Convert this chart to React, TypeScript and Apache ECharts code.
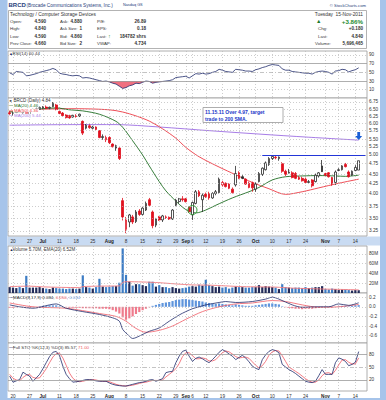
import React, { useEffect, useRef } from "react";
import * as echarts from "echarts";

// ---------- DATA ----------
const days = [
  "06-17","06-20","06-21","06-22","06-23","06-24","06-27","06-28","06-29","06-30",
  "07-01","07-05","07-06","07-07","07-08","07-11","07-12","07-13","07-14","07-15",
  "07-18","07-19","07-20","07-21","07-22","07-25","07-26","07-27","07-28","07-29",
  "08-01","08-02","08-03","08-04","08-05","08-08","08-09","08-10","08-11","08-12",
  "08-15","08-16","08-17","08-18","08-19","08-22","08-23","08-24","08-25","08-26",
  "08-29","08-30","08-31","09-01","09-02","09-06","09-07","09-08","09-09","09-12",
  "09-13","09-14","09-15","09-16","09-19","09-20","09-21","09-22","09-23","09-26",
  "09-27","09-28","09-29","09-30","10-03","10-04","10-05","10-06","10-07","10-10",
  "10-11","10-12","10-13","10-14","10-17","10-18","10-19","10-20","10-21","10-24",
  "10-25","10-26","10-27","10-28","10-31","11-01","11-02","11-03","11-04","11-07",
  "11-08","11-09","11-10","11-11","11-14","11-15","11-16","11-17"
];
const tickDays = ["06-20","06-27","07-01","07-11","07-18","07-25","08-01","08-08","08-15","08-22","08-29","09-01","09-06","09-12","09-19","09-26","10-03","10-10","10-17","10-24","11-01","11-07","11-14"];
const tickTexts = ["20","27","Jul","11","18","25","Aug","8","15","22","29","Sep","6","12","19","26","Oct","10","17","24","Nov","7","14"];

const open = [6.35,6.30,6.36,6.45,6.35,6.42,6.28,6.40,6.48,6.50,6.53,6.56,6.52,6.58,6.64,6.40,6.34,6.27,6.25,6.20,6.24,6.24,6.05,5.82,5.90,5.82,5.86,5.74,5.52,5.45,5.52,5.32,5.20,5.20,3.86,3.28,3.42,3.52,3.43,3.64,3.57,3.66,3.88,3.62,3.36,3.52,3.46,3.52,3.51,3.48,3.76,3.84,3.90,3.90,3.72,3.56,3.80,4.06,3.88,4.00,4.02,3.92,4.02,4.04,4.22,4.26,4.24,4.12,4.22,4.52,4.42,4.36,4.26,4.27,4.12,4.30,4.48,4.60,4.74,4.90,4.94,4.90,4.76,4.56,4.52,4.52,4.50,4.40,4.38,4.36,4.28,4.34,4.30,4.44,4.70,4.50,4.52,4.40,4.28,4.58,4.60,4.74,4.54,4.46,4.58,4.59];
const high = [6.42,6.38,6.48,6.50,6.44,6.45,6.42,6.50,6.55,6.58,6.60,6.62,6.58,6.75,6.68,6.42,6.38,6.30,6.28,6.28,6.30,6.32,6.08,5.96,5.95,5.90,5.88,5.76,5.62,5.58,5.56,5.34,5.30,5.22,3.92,3.52,3.58,3.56,3.66,3.68,3.72,3.84,3.92,3.65,3.50,3.54,3.56,3.55,3.53,3.68,3.90,3.92,3.96,3.92,3.74,3.84,4.10,4.10,4.02,4.04,4.06,4.05,4.10,4.40,4.32,4.28,4.26,4.16,4.70,4.56,4.46,4.38,4.30,4.30,4.28,4.54,4.66,4.82,4.94,5.00,4.97,4.96,4.80,4.60,4.62,4.56,4.54,4.44,4.42,4.40,4.34,4.36,4.50,4.54,4.86,4.52,4.54,4.42,4.58,4.64,4.72,4.78,4.58,4.58,4.72,4.84];
const low = [6.28,6.25,6.34,6.38,6.28,6.22,6.26,6.38,6.42,6.46,6.50,6.50,6.48,6.56,6.44,6.30,6.22,6.15,6.14,6.18,6.18,6.20,5.60,5.78,5.80,5.78,5.76,5.50,5.45,5.38,5.32,5.22,5.12,4.86,3.45,3.21,3.32,3.38,3.40,3.54,3.55,3.64,3.74,3.30,3.32,3.44,3.42,3.48,3.46,3.46,3.74,3.80,3.84,3.82,3.60,3.46,3.78,3.94,3.62,3.92,3.88,3.90,3.98,4.02,4.18,4.16,4.12,4.02,4.18,4.36,4.36,4.22,4.14,4.06,4.06,4.28,4.44,4.58,4.70,4.86,4.88,4.84,4.52,4.44,4.50,4.38,4.36,4.34,4.30,4.26,4.26,4.16,4.28,4.40,4.54,4.44,4.40,4.20,4.22,4.56,4.58,4.66,4.40,4.44,4.56,4.59];
const close = [6.32,6.36,6.46,6.40,6.42,6.25,6.40,6.48,6.50,6.55,6.57,6.52,6.55,6.70,6.47,6.33,6.25,6.18,6.17,6.26,6.22,6.30,5.66,5.92,5.84,5.86,5.78,5.52,5.55,5.52,5.36,5.24,5.27,4.90,3.52,3.46,3.56,3.42,3.62,3.57,3.70,3.80,3.76,3.35,3.48,3.46,3.54,3.51,3.48,3.66,3.87,3.90,3.88,3.84,3.63,3.82,4.06,3.97,3.98,3.95,3.92,4.02,4.06,4.36,4.28,4.18,4.14,4.04,4.50,4.38,4.38,4.24,4.16,4.15,4.24,4.50,4.64,4.78,4.90,4.96,4.92,4.94,4.56,4.48,4.54,4.40,4.38,4.36,4.32,4.28,4.30,4.20,4.46,4.52,4.55,4.46,4.42,4.24,4.54,4.60,4.70,4.68,4.42,4.56,4.66,4.84];

const ma20 = [[0,6.38],[5,6.40],[10,6.50],[14,6.53],[18,6.46],[22,6.42],[27,6.30],[32,6.05],[34,5.85],[37,5.42],[40,5.00],[42,4.70],[45,4.30],[47,4.08],[50,3.85],[52,3.72],[54,3.63],[56,3.60],[59,3.66],[62,3.76],[67,3.92],[72,4.06],[75,4.16],[79,4.34],[83,4.42],[88,4.44],[93,4.45],[98,4.44],[101,4.43],[105,4.46]];
const ma50 = [[0,6.40],[10,6.48],[20,6.50],[30,6.46],[34,6.38],[38,6.24],[42,6.06],[46,5.80],[50,5.50],[53,5.22],[57,4.95],[63,4.67],[68,4.47],[73,4.28],[78,4.13],[83,4.00],[88,4.06],[93,4.15],[99,4.26],[105,4.36]];
const ma200 = [[0,5.92],[20,5.94],[32,5.94],[45,5.86],[60,5.74],[75,5.63],[90,5.53],[105,5.44]];

const rsi = [49,45,52,51,50,42,43,45,47,50,52,54,56,59,56,48,46,45,43,42,43,42,37,38,37,35,33,31,29,30,28,25,23,18,13,15,19,21,25,24,27,30,29,25,27,28,29,30,31,33,38,39,40,41,37,42,47,46,48,46,47,50,52,57,55,52,51,50,57,56,55,53,53,52,56,58,61,63,66,68,67,66,58,55,55,52,51,50,49,48,48,46,50,52,53,52,50,46,53,54,57,56,51,54,56,60.44];

const volume = [12,11,10,12,10,35,11,11,11,12,10,9,8,11,10,9,9,8,9,9,8,9,36,12,11,9,12,29,13,12,13,14,14,21,91,37,23,15,18,18,16,14,23,23,13,16,12,12,10,12,10,9,10,11,13,14,13,17,15,27,16,14,12,13,11,12,9,11,13,12,12,11,11,12,12,16,12,14,13,12,11,8,18,12,11,10,11,11,10,12,10,11,12,12,14,8,7,9,8,6,7,7,6,5,6,5.7];
const volEma = [[0,13],[6,14],[10,12.5],[21,11],[22,13],[27,14],[33,14.5],[34,21.5],[35,23],[40,22.5],[45,21],[50,18.5],[55,16.5],[60,16],[65,14.5],[70,13],[75,12.5],[80,12],[85,10],[95,8],[105,6.52]];

const macd = [[0,0.04],[3,0.0],[7,-0.03],[12,0.04],[14,0.06],[17,-0.03],[22,-0.10],[27,-0.16],[31,-0.23],[33,-0.30],[34,-0.47],[36,-0.61],[37,-0.66],[39,-0.61],[42,-0.51],[45,-0.44],[48,-0.30],[51,-0.17],[53,-0.10],[55,-0.04],[57,0.0],[59,0.04],[63,0.09],[65,0.11],[68,0.09],[73,0.11],[77,0.16],[79,0.20],[81,0.16],[85,0.04],[88,-0.01],[93,0.0],[96,0.0],[99,0.06],[102,0.03],[105,0.084]];
const signal = [[0,0.08],[7,0.0],[17,-0.03],[22,-0.08],[27,-0.14],[32,-0.20],[35,-0.30],[38,-0.45],[41,-0.53],[45,-0.49],[49,-0.40],[53,-0.26],[58,-0.10],[63,0.0],[68,0.06],[73,0.08],[79,0.13],[83,0.11],[88,0.04],[93,-0.01],[99,0.0],[105,0.05]];
const hist = [-0.02,-0.02,-0.01,0,-0.01,-0.02,-0.02,-0.01,0,0.01,0.02,0.02,0.03,0.03,0.03,0.01,0,-0.01,-0.02,-0.02,-0.02,-0.02,-0.03,-0.03,-0.03,-0.03,-0.03,-0.04,-0.04,-0.04,-0.05,-0.07,-0.10,-0.14,-0.22,-0.27,-0.24,-0.20,-0.15,-0.11,-0.07,-0.04,-0.01,0.02,0.04,0.06,0.08,0.09,0.10,0.12,0.14,0.15,0.16,0.16,0.15,0.14,0.13,0.12,0.11,0.09,0.08,0.07,0.06,0.07,0.06,0.05,0.04,0.03,0.05,0.04,0.03,0.02,0.02,0.02,0.03,0.04,0.05,0.06,0.07,0.07,0.06,0.05,0.01,-0.01,-0.02,-0.03,-0.04,-0.04,-0.05,-0.04,-0.04,-0.04,-0.03,-0.02,-0.01,-0.01,-0.01,-0.02,0,0.01,0.02,0.02,0.01,0.02,0.03,0.034];

const stoK = [29,15,18,21,38,33,29,17,25,33,46,60,74,84,86,76,52,33,23,15,16,17,19,21,21,20,18,17,17,17,13,10,8,7,6,6,8,10,12,14,15,17,20,21,17,20,23,37,39,40,60,75,86,89,75,63,70,73,69,64,60,67,75,84,90,86,80,75,67,72,77,71,62,52,47,44,67,78,86,90,88,83,56,50,44,40,35,29,23,17,15,14,17,30,44,33,33,33,60,71,68,63,53,56,61,85.57];
const stoD = [33,24,20,18,26,31,33,26,24,25,35,46,60,73,81,82,71,54,36,24,18,16,17,19,20,21,20,18,17,17,16,13,10,8,7,6,7,8,10,12,14,15,17,19,19,19,20,27,33,39,46,58,74,83,83,76,69,69,71,69,64,64,67,75,83,87,85,80,74,71,72,73,70,62,54,48,53,63,77,85,88,87,76,63,50,45,40,35,29,23,18,15,15,20,30,36,37,33,42,55,66,67,61,57,57,71];

const priceLevels = [6.75,6.5,6.25,6.0,5.75,5.5,5.25,5.0,4.75,4.5,4.25,4.0,3.75,3.5,3.25];
const breakout = 4.99;

// ---------- HELPERS ----------
const FONT = '"Liberation Sans", Arial, sans-serif';
const L = Math.log;
const tickSet = new Set(tickDays);
const tickText: Record<string, string> = {};
tickDays.forEach((d, i) => (tickText[d] = tickTexts[i]));
const FS = 4.4;
const AX = 4.7;

function txt(x: number, y: number, text: string, o: any = {}) {
  return {
    type: "text", x, y, silent: true, z: 50,
    style: {
      text, fill: o.fill || "#333", fontSize: o.size || FS,
      fontWeight: o.bold ? "bold" : "normal", fontFamily: FONT,
      align: o.align || "left", verticalAlign: "middle",
      backgroundColor: o.bg, padding: o.bg ? [0, 1] : 0,
    },
  };
}

function levelLine(y: number, label: string, style: any) {
  return {
    yAxis: y,
    lineStyle: style,
    label: { show: label !== "", position: "end", formatter: label, fontSize: AX, color: "#333", distance: 2, fontFamily: FONT },
  };
}
const dotted = { type: [1, 2], color: "#b8b8b8", width: 0.7 };
const solidGrey = { type: "solid", color: "#9a9a9a", width: 0.8 };
const dashGrey = { type: [4, 2, 1, 2], color: "#aaaaaa", width: 0.7 };

function ml(data: any[]) {
  return { silent: true, symbol: ["none", "none"], animation: false, data };
}

export default function App() {
  const ref = useRef<HTMLDivElement>(null);
  useEffect(() => {
    const chart = echarts.init(ref.current!, undefined, { renderer: "svg" });

    const grids = [
      { top: 51, height: 47 },
      { top: 98, height: 138 },
      { top: 246, height: 47 },
      { top: 293, height: 50 },
      { top: 343, height: 48 },
    ].map((g) => ({ ...g, left: 8, width: 359, show: true, borderColor: "#9a9a9a", borderWidth: 0.8, backgroundColor: "#fff" }));

    const labelStyle = {
      show: true, interval: (i: number, v: string) => tickSet.has(v),
      formatter: (v: string) => {
        const t = tickText[v] || "";
        return /^[A-Z]/.test(t) ? `{b|${t}}` : t;
      },
      fontSize: AX, color: "#333", margin: 3, fontFamily: FONT,
      rich: { b: { fontWeight: "bold", fontSize: AX, fontFamily: FONT, color: "#222" } },
    };

    const xAxes = grids.map((_, i) => ({
      type: "category", gridIndex: i, data: days, boundaryGap: true,
      axisLine: { show: false }, axisTick: { show: false },
      axisLabel: i === 1 || i === 4 ? labelStyle : { show: false },
      splitLine: { show: true, interval: (idx: number, v: string) => tickSet.has(v), alignWithLabel: true, lineStyle: dotted },
    }));

    const yRanges = [
      [-9.1, 99.2],
      [L(3.159), L(6.907)],
      [0, 95.9],
      [-0.754, 0.2875],
      [-5.4, 105.4],
    ];
    const yAxes = yRanges.map((r, i) => ({
      type: "value", gridIndex: i, position: "right", min: r[0], max: r[1],
      axisLabel: { show: false }, axisLine: { show: false }, axisTick: { show: false }, splitLine: { show: false },
    }));

    const candles = open.map((o, i) => {
      const c = close[i];
      const prev = i > 0 ? close[i - 1] : o;
      const edge = c < prev ? "#e0101e" : "#2a2a2a";
      const fill = c > o ? "#ffffff" : edge;
      return {
        value: [L(o), L(c), L(low[i]), L(high[i])],
        itemStyle: { color: fill, color0: fill, borderColor: edge, borderColor0: edge, borderWidth: 0.8 },
      };
    });

    const arrowPath = "path://M3,0L7,0L7,5L10,5L5,10L0,5L3,5Z";

    const series: any[] = [
      // RSI
      {
        type: "line", xAxisIndex: 0, yAxisIndex: 0, data: rsi.map((v) => Math.min(v, 30)),
        symbol: "none", lineStyle: { width: 0 }, areaStyle: { origin: 30, color: "#f0707f", opacity: 1 }, z: 2,
      },
      {
        type: "line", xAxisIndex: 0, yAxisIndex: 0, data: rsi, symbol: "none",
        lineStyle: { color: "#1f2b6b", width: 0.8 }, z: 3,
        markLine: ml([
          levelLine(90, "90", dotted), levelLine(70, "70", solidGrey), levelLine(50, "50", dashGrey),
          levelLine(30, "30", solidGrey), levelLine(10, "10", dotted),
        ]),
      },
      // Price
      {
        type: "line", xAxisIndex: 1, yAxisIndex: 1, data: ma200.map(([i, v]) => [i, L(v)]), symbol: "none", smooth: 0.3,
        lineStyle: { color: "#a77de6", width: 1 }, z: 2,
      },
      {
        type: "line", xAxisIndex: 1, yAxisIndex: 1, data: ma50.map(([i, v]) => [i, L(v)]), symbol: "none", smooth: 0.3,
        lineStyle: { color: "#ec3a44", width: 0.9 }, z: 2,
      },
      {
        type: "line", xAxisIndex: 1, yAxisIndex: 1, data: ma20.map(([i, v]) => [i, L(v)]), symbol: "none", smooth: 0.3,
        lineStyle: { color: "#1f6e24", width: 0.9 }, z: 2,
      },
      {
        type: "candlestick", xAxisIndex: 1, yAxisIndex: 1, data: candles, barWidth: 2.2, z: 3,
        markLine: ml([
          ...priceLevels.map((p) => levelLine(L(p), p.toFixed(2), dotted)),
          [
            { coord: [76, L(breakout)], lineStyle: { color: "#2336d8", width: 1, type: "solid" }, label: { show: false } },
            { coord: [107, L(breakout)] },
          ],
        ]),
        markPoint: {
          silent: true, animation: false, label: { show: false },
          data: [
            { coord: [105, L(5.57)], symbol: arrowPath, symbolSize: [7, 8], itemStyle: { color: "#1a5fd6" } },
            { coord: [55, L(3.66)], symbol: "circle", symbolSize: 9, itemStyle: { color: "rgba(0,0,0,0)", borderColor: "#2f9a34", borderWidth: 1 } },
          ],
        },
      },
      // Volume
      {
        type: "bar", xAxisIndex: 2, yAxisIndex: 2, barWidth: 2.2,
        data: volume.map((v, i) => ({
          value: v,
          itemStyle: { color: i > 0 && close[i] < close[i - 1] ? "#3d7cc4" : "#222c5a" },
        })),
        markLine: ml([
          levelLine(80, "80M", dotted), levelLine(60, "60M", dotted), levelLine(40, "40M", dotted), levelLine(20, "20M", dotted),
        ]),
      },
      {
        type: "line", xAxisIndex: 2, yAxisIndex: 2, data: volEma, symbol: "none", smooth: 0.3,
        lineStyle: { color: "#f07a80", width: 0.9 }, z: 3,
      },
      // MACD
      {
        type: "bar", xAxisIndex: 3, yAxisIndex: 3, barWidth: 2.2,
        data: hist.map((v) => ({ value: v, itemStyle: { color: v >= 0 ? "#5f95dc" : "#ef7a8c" } })),
        markLine: ml([
          levelLine(0.2, "0.2", dotted), levelLine(0, "0.0", dotted), levelLine(-0.2, "-0.2", dotted),
          levelLine(-0.4, "-0.4", dotted), levelLine(-0.6, "-0.6", dotted),
        ]),
      },
      {
        type: "line", xAxisIndex: 3, yAxisIndex: 3, data: signal, symbol: "none", smooth: 0.3,
        lineStyle: { color: "#f05a64", width: 0.8 }, z: 3,
      },
      {
        type: "line", xAxisIndex: 3, yAxisIndex: 3, data: macd, symbol: "none", smooth: 0.3,
        lineStyle: { color: "#1f2b6b", width: 0.8 }, z: 4,
      },
      // STO
      {
        type: "line", xAxisIndex: 4, yAxisIndex: 4, data: stoD, symbol: "none",
        lineStyle: { color: "#f05a64", width: 0.8 }, z: 3,
        markLine: ml([levelLine(80, "80", solidGrey), levelLine(50, "50", dashGrey), levelLine(20, "20", solidGrey)]),
      },
      {
        type: "line", xAxisIndex: 4, yAxisIndex: 4, data: stoK, symbol: "none",
        lineStyle: { color: "#1f2b6b", width: 0.8 }, z: 4,
      },
    ];

    const blue = "#a6c4ea";
    const graphic: any[] = [
      { type: "rect", shape: { x: 0, y: 0, width: 7.5, height: 400 }, style: { fill: blue }, silent: true, z: 40 },
      { type: "rect", shape: { x: 380, y: 0, width: 6, height: 400 }, style: { fill: blue }, silent: true, z: 40 },
      { type: "rect", shape: { x: 0, y: 398, width: 386, height: 2 }, style: { fill: blue }, silent: true, z: 40 },
      { type: "rect", shape: { x: 8, y: 236.5, width: 372, height: 9 }, style: { fill: "#c9dbf2" }, silent: true, z: -1 },
      // header box
      { type: "rect", shape: { x: 8.5, y: 10.5, width: 358, height: 38 }, style: { fill: "none", stroke: "#a0a0a0", lineWidth: 0.8 }, silent: true, z: 40 },
      txt(8.5, 5, "BRCD", { bold: true, size: 6, fill: "#1f3d7a" }),
      txt(26.5, 5, "(Brocade Communications Systems, Inc.)", { size: 4.7, fill: "#1f3d7a" }),
      txt(123, 5.3, "Nasdaq GS", { size: 3.8, fill: "#1f3d7a" }),
      txt(366, 5, "© StockCharts.com", { size: 4.2, align: "right", fill: "#1f3d7a" }),
      txt(10, 14, "Technology / Computer Storage Devices", { size: 4.8 }),
      txt(363, 14, "Tuesday  15-Nov-2011", { size: 4.8, align: "right" }),
      // rows
      txt(10, 21, "Open:"), txt(46, 21, "4.590", { bold: true, align: "right", size: 4.6 }),
      txt(60, 21, "Ask:"), txt(82, 21, "4.880", { bold: true, align: "right", size: 4.6 }),
      txt(97, 21, "P/E:"), txt(146, 21, "26.89", { bold: true, align: "right", size: 4.6 }),
      txt(10, 28.5, "High:"), txt(46, 28.5, "4.840", { bold: true, align: "right", size: 4.6 }),
      txt(60, 28.5, "Ask Size:", { size: 4.2 }), txt(82, 28.5, "1", { bold: true, align: "right", size: 4.6 }),
      txt(97, 28.5, "EPS:"), txt(146, 28.5, "0.18", { bold: true, align: "right", size: 4.6 }),
      txt(10, 36, "Low:"), txt(46, 36, "4.590", { bold: true, align: "right", size: 4.6 }),
      txt(60, 36, "Bid:"), txt(82, 36, "4.860", { bold: true, align: "right", size: 4.6 }),
      txt(97, 36, "Last:"), txt(108, 36, "↑", { bold: true, fill: "#1c8a2c", size: 5.5 }),
      txt(146, 36, "184782 shrs", { bold: true, align: "right", size: 4.6 }),
      txt(10, 43.5, "Prev Close:", { size: 4.2 }), txt(46, 43.5, "4.660", { bold: true, align: "right", size: 4.6 }),
      txt(60, 43.5, "Bid Size:", { size: 4.2 }), txt(82, 43.5, "2", { bold: true, align: "right", size: 4.6 }),
      txt(97, 43.5, "VWAP:"), txt(146, 43.5, "4.734", { bold: true, align: "right", size: 4.6 }),
      txt(316, 21, "▲", { fill: "#1c7a2c", size: 5.5 }),
      txt(363, 21, "+3.86%", { bold: true, align: "right", fill: "#1c8a2c", size: 6.2 }),
      txt(318, 28.5, "Chg:"), txt(363, 28.5, "+0.180", { bold: true, align: "right", size: 4.6 }),
      txt(318, 36, "Last:"), txt(363, 36, "4.840", { bold: true, align: "right", size: 4.6 }),
      txt(315, 43.5, "Volume:"), txt(363, 43.5, "5,696,465", { bold: true, align: "right", size: 4.6 }),
      // panel titles
      txt(9, 53, "▲", { fill: "#1f2b6b", size: 4 }),
      txt(12.5, 53, "RSI(14) 60.44", { size: 4.4 }),
      txt(9.5, 100.5, "■", { fill: "#555", size: 3.5 }),
      txt(12.5, 100.5, "BRCD (Daily) 4.84", { size: 4.5, bg: "#fff" }),
      txt(9, 105.5, "—", { fill: "#1f6e24", size: 4.5 }), txt(13, 105.5, "MA(20) 4.46", { size: 4.4, fill: "#1f6e24", bg: "#fff" }),
      txt(9, 110.5, "—", { fill: "#ec3a44", size: 4.5 }), txt(13, 110.5, "MA(50) 4.36", { size: 4.4, fill: "#ec3a44", bg: "#fff" }),
      txt(9, 115.5, "—", { fill: "#a77de6", size: 4.5 }), txt(13, 115.5, "MA(200) 5.44", { size: 4.4, fill: "#a77de6", bg: "#fff" }),
      txt(9.5, 249.5, "▲", { fill: "#222c5a", size: 4 }),
      txt(12.5, 249.5, "Volume 5.70M, EMA(20) 6.52M", { size: 4.5 }),
      txt(9, 297, "—", { fill: "#1f2b6b", size: 4.5 }),
      {
        type: "text", x: 13, y: 297, silent: true, z: 50,
        style: {
          text: "MACD(8,17,9) 0.084, {r|0.050}, {b|0.034}", fill: "#333", fontSize: 4.4, fontFamily: FONT, verticalAlign: "middle",
          rich: { r: { fill: "#f05a64", fontSize: 4.4, fontFamily: FONT }, b: { fill: "#6f9ee0", fontSize: 4.4, fontFamily: FONT } },
        },
      },
      txt(9, 347, "—", { fill: "#1f2b6b", size: 4.5 }),
      {
        type: "text", x: 13, y: 347, silent: true, z: 50,
        style: {
          text: "Full STO %K(12,3) %D(3) 85.57, {r|71.00}", fill: "#333", fontSize: 4.4, fontFamily: FONT, verticalAlign: "middle",
          rich: { r: { fill: "#f05a64", fontSize: 4.4, fontFamily: FONT } },
        },
      },
      // annotation
      { type: "rect", shape: { x: 203, y: 107.5, width: 80, height: 15 }, style: { fill: "#fff", stroke: "#999", lineWidth: 0.8 }, silent: true, z: 45 },
      txt(205, 111.5, "11.15.11 Over 4.97, target", { bold: true, fill: "#2136c8", size: 5 }),
      txt(205, 118.5, "trade to 200 SMA.", { bold: true, fill: "#2136c8", size: 5 }),
    ];

    chart.setOption({
      animation: false,
      backgroundColor: "#fff",
      grid: grids,
      xAxis: xAxes,
      yAxis: yAxes,
      series,
      graphic,
    });
    return () => chart.dispose();
  }, []);
  return <div ref={ref} style={{ position: "fixed", left: 0, top: 0, width: 386, height: 400 }} />;
}
